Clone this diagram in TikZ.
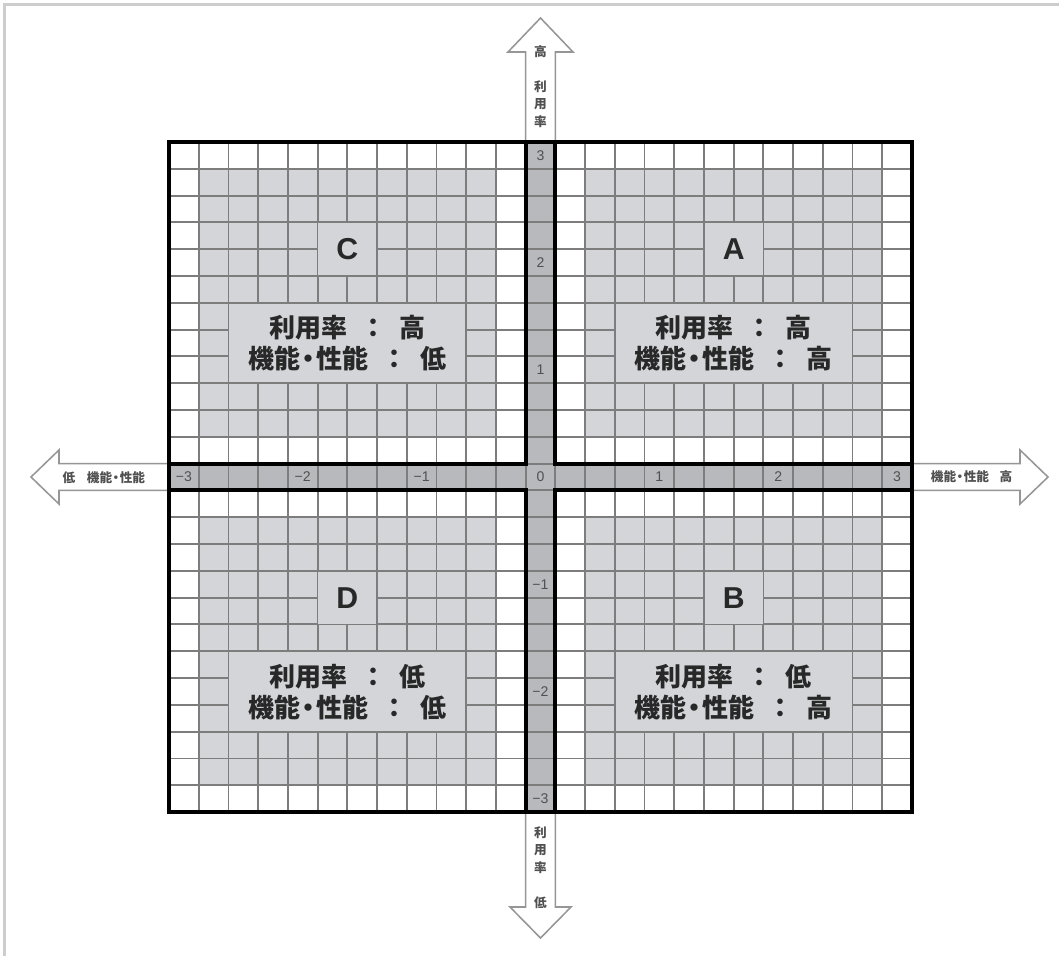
\documentclass[tikz,border=0pt]{standalone}
\usepackage{fontspec}
\setmainfont{Liberation Sans}
\newfontfamily\jpfont{Noto Sans CJK JP}
\definecolor{blockgray}{RGB}{212,213,217}
\definecolor{stripgray}{RGB}{184,185,189}
\definecolor{gridgray}{RGB}{125,125,125}
\definecolor{framegray}{RGB}{205,205,205}
\definecolor{arrowgray}{RGB}{150,150,150}
\definecolor{textdark}{RGB}{40,40,40}
\definecolor{numgray}{RGB}{80,80,80}
\begin{document}
\begin{tikzpicture}[x=0.025cm,y=-0.025cm,
  gridline/.style={draw=gridgray,line width=1.3pt},
  quadborder/.style={draw=black,line width=2.8pt},
  blockarrow/.style={draw=arrowgray,fill=white,line width=1.1pt,line join=miter},
  letterlabel/.style={font=\fontsize{21.5}{24}\selectfont\bfseries,text=textdark,inner sep=0pt},
  quadtext/.style={font=\jpfont\bfseries\fontsize{18.5}{22}\selectfont,text=textdark,inner sep=0pt},
  axisnum/.style={font=\fontsize{10}{12}\selectfont,text=numgray,inner sep=0pt},
  arrowtext/.style={font=\jpfont\bfseries\fontsize{9}{12.5}\selectfont,text=numgray,inner sep=0pt,align=center},
]
\useasboundingbox (0,0) rectangle (1059,956);
\fill[white] (0,0) rectangle (1059,956);
\draw[framegray,line width=2pt] (4.5,956) -- (4.5,4.5) -- (1059,4.5);
\def\cellw{29.72}\def\cellh{26.8}
% shaded blocks
\foreach \ox/\oy in {0/0,13/0,0/13,13/13}{
  \fill[blockgray] ({169+(\ox+1)*\cellw},{142+(\oy+1)*\cellh}) rectangle ({169+(\ox+11)*\cellw},{142+(\oy+11)*\cellh});
}
% axis strips
\fill[stripgray] ({169+12*\cellw},142) rectangle ({169+13*\cellw},812);
\fill[stripgray] (169,{142+12*\cellh}) rectangle (912,{142+13*\cellh});
% grid
\foreach \i in {0,...,25}{
  \draw[gridline] ({169+\i*\cellw},142) -- ({169+\i*\cellw},812);
  \draw[gridline] (169,{142+\i*\cellh}) -- (912,{142+\i*\cellh});
}
% quadrant labels
\foreach \ox/\oy/\L/\ra/\rb/\nm in {0/0/C/高/低/c,13/0/A/高/高/a,0/13/D/低/低/d,13/13/B/低/高/b}{
  \fill[blockgray] ({169+(\ox+5)*\cellw+0.8},{142+(\oy+3)*\cellh+0.8}) rectangle ({169+(\ox+7)*\cellw-0.8},{142+(\oy+5)*\cellh-0.8});
  \fill[blockgray] ({169+(\ox+2)*\cellw+0.8},{142+(\oy+6)*\cellh+0.8}) rectangle ({169+(\ox+10)*\cellw-0.8},{142+(\oy+9)*\cellh-0.8});
  \node[letterlabel] (lab\nm) at ({169+(\ox+6)*\cellw},{142+(\oy+4)*\cellh}) {\L};
  \node[quadtext] (use\nm) at ({169+(\ox+6)*\cellw},{142+(\oy+7.5)*\cellh-15}) {利用率\hspace{0.5em}：\hspace{0.5em}\ra};
  \node[quadtext] (perf\nm) at ({169+(\ox+6)*\cellw},{142+(\oy+7.5)*\cellh+16}) {機能\makebox[0.6em]{・}性能\hspace{0.5em}：\hspace{0.5em}\rb};
}
% block arrows
\draw[blockarrow] (525.6,142) -- (525.6,52) -- (508,52) -- (540.5,18) -- (573,52) -- (555.4,52) -- (555.4,142);
\draw[blockarrow] (525.6,812) -- (525.6,907) -- (510,907) -- (540.5,938) -- (571,907) -- (555.4,907) -- (555.4,812);
\draw[blockarrow] (169,463.6) -- (59,463.6) -- (59,450) -- (31,477) -- (59,504) -- (59,490.4) -- (169,490.4);
\draw[blockarrow] (912,463.6) -- (1020,463.6) -- (1020,450) -- (1048,477) -- (1020,504) -- (1020,490.4) -- (912,490.4);
% borders
\draw[quadborder] (169,142) rectangle (912,812);
\draw[quadborder] (169,142) rectangle ({169+12*\cellw},{142+12*\cellh});
\draw[quadborder] ({169+13*\cellw},142) rectangle (912,{142+12*\cellh});
\draw[quadborder] (169,{142+13*\cellh}) rectangle ({169+12*\cellw},812);
\draw[quadborder] ({169+13*\cellw},{142+13*\cellh}) rectangle (912,812);
% axis numbers
\foreach \v/\c/\nm in {−3/0/hm3,−2/4/hm2,−1/8/hm1,0/12/hz,1/16/hp1,2/20/hp2,3/24/hp3}{
  \node[axisnum] (\nm) at ({169+(\c+0.5)*\cellw},{142+12.5*\cellh}) {\v};
}
\foreach \v/\c/\nm in {3/0/vp3,2/4/vp2,1/8/vp1,−1/16/vm1,−2/20/vm2,−3/24/vm3}{
  \node[axisnum] (\nm) at ({169+12.5*\cellw},{142+(\c+0.5)*\cellh}) {\v};
}
% arrow texts
\node[arrowtext] (tophigh) at (540.5,52) {高};
\node[arrowtext] (topuse) at (540.5,104) {利\\用\\率};
\node[arrowtext] (botuse) at (540.5,850) {利\\用\\率};
\node[arrowtext] (botlow) at (540.5,903) {低};
\node[arrowtext] (leftlow) at (69,478) {低};
\node[arrowtext] (leftperf) at (116,478) {機能\makebox[0.6em]{・}性能};
\node[arrowtext] (rightperf) at (960,477) {機能\makebox[0.6em]{・}性能};
\node[arrowtext] (righthigh) at (1006,477) {高};
\end{tikzpicture}
\end{document}
